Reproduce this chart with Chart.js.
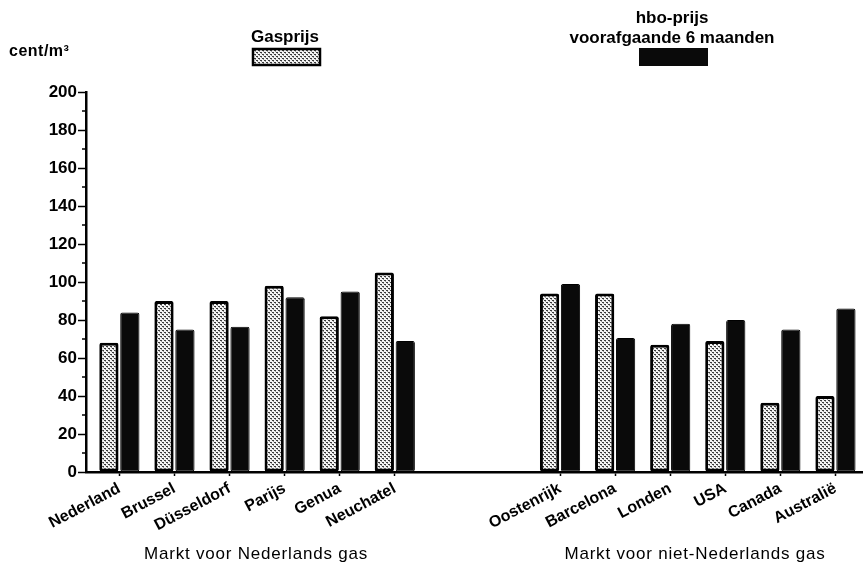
<!DOCTYPE html>
<html>
<head>
<meta charset="utf-8">
<script src="https://cdn.jsdelivr.net/npm/chart.js@4/dist/chart.umd.min.js"></script>
<style>
  html, body { margin: 0; padding: 0; background: #fff; }
  #wrap { width: 863px; height: 564px; position: relative; }
</style>
</head>
<body>
<div id="wrap"><canvas id="c" width="863" height="564"></canvas></div>
<script>
// ---- data ----
const categories = ['Nederland', 'Brussel', 'Düsseldorf', 'Parijs', 'Genua', 'Neuchatel', '', '',
                    'Oostenrijk', 'Barcelona', 'Londen', 'USA', 'Canada', 'Australië'];
const gasprijs = [68, 90, 90, 98, 82, 105, null, null, 94, 94, 67, 69, 36.5, 40];
const hboprijs = [84, 75, 76.5, 92, 95, 69, null, null, 99, 70.5, 78, 80, 75, 86];
const seriesNames = ['Gasprijs', 'hbo-prijs', 'voorafgaande 6 maanden'];
const groupTitles = ['Markt voor Nederlands gas', 'Markt voor niet-Nederlands gas'];
const yUnit = 'cent/m³';
const yMax = 200, yMajor = 20, yMinor = 10;

const FONT = '"Liberation Sans", Arial, Helvetica, sans-serif';

// stipple pattern for Gasprijs
function makePattern() {
  const t = document.createElement('canvas');
  t.width = 4; t.height = 4;
  const g = t.getContext('2d');
  g.fillStyle = '#f4f4f4';
  g.fillRect(0, 0, 4, 4);
  g.fillStyle = '#3a3a3a';
  g.fillRect(0, 0, 2, 1);
  g.fillRect(2, 2, 2, 1);
  g.fillStyle = '#9a9a9a';
  g.fillRect(1, 1, 1, 1);
  g.fillRect(3, 3, 1, 1);
  return g.createPattern(t, 'repeat');
}
const ctx0 = document.getElementById('c').getContext('2d');
const gasPattern = makePattern();

const decor = {
  id: 'decor',
  afterDraw(chart) {
    const ctx = chart.ctx;
    const y = chart.scales.y;
    ctx.save();
    // minor ticks on y axis
    ctx.strokeStyle = '#000';
    ctx.lineWidth = 1.5;
    const ax = chart.chartArea.left;
    for (let v = yMinor; v < yMax; v += yMajor) {
      const py = y.getPixelForValue(v);
      ctx.beginPath();
      ctx.moveTo(ax - 4, py);
      ctx.lineTo(ax, py);
      ctx.stroke();
    }
    // unit label
    ctx.fillStyle = '#000';
    ctx.font = 'bold 16px ' + FONT;
    ctx.textAlign = 'left';
    ctx.textBaseline = 'alphabetic';
    ctx.letterSpacing = '0.5px';
    ctx.fillText(yUnit, 9, 56);
    // legend
    ctx.font = 'bold 17px ' + FONT;
    ctx.letterSpacing = '0px';
    ctx.textAlign = 'center';
    ctx.fillText(seriesNames[0], 285, 42);
    ctx.fillText(seriesNames[1], 672, 23);
    ctx.fillText(seriesNames[2], 672, 43);
    // legend swatches
    ctx.lineWidth = 2.5;
    ctx.strokeStyle = '#000';
    ctx.fillStyle = gasPattern;
    ctx.fillRect(253, 49, 67, 16);
    ctx.strokeRect(253, 49, 67, 16);
    ctx.fillStyle = '#0a0a0a';
    ctx.fillRect(639, 48, 69, 18);
    // group titles
    ctx.fillStyle = '#000';
    ctx.font = '17px ' + FONT;
    ctx.letterSpacing = '0.8px';
    ctx.fillText(groupTitles[0], 256, 559);
    ctx.fillText(groupTitles[1], 695, 559);
    ctx.restore();
  }
};

new Chart(ctx0, {
  type: 'bar',
  data: {
    labels: categories,
    datasets: [
      {
        label: seriesNames[0],
        data: gasprijs,
        backgroundColor: gasPattern,
        borderColor: '#000',
        borderWidth: 3,
        borderRadius: 2,
        borderSkipped: false,
        categoryPercentage: 0.76,
        barPercentage: 0.92
      },
      {
        label: seriesNames[1] + ' ' + seriesNames[2],
        data: hboprijs,
        backgroundColor: '#0a0a0a',
        borderColor: '#000',
        borderWidth: 1,
        borderRadius: 2,
        borderSkipped: false,
        categoryPercentage: 0.76,
        barPercentage: 0.92
      }
    ]
  },
  options: {
    responsive: false,
    animation: false,
    devicePixelRatio: 1,
    layout: { padding: { left: 0, right: -5, top: 92, bottom: 0 } },
    plugins: {
      legend: { display: false },
      tooltip: { enabled: false },
      title: { display: false }
    },
    scales: {
      x: {
        offset: true,
        grid: {
          offset: false,
          drawOnChartArea: false,
          tickLength: 4,
          tickWidth: 1.5,
          tickColor: (c) => (categories[c.index] ? '#000' : 'rgba(0,0,0,0)')
        },
        border: { color: '#000', width: 2.5 },
        ticks: {
          autoSkip: false,
          minRotation: 28,
          maxRotation: 28,
          padding: 3,
          color: '#000',
          font: { family: FONT, size: 16, weight: 'bold' }
        },
        afterBuildTicks(s) {
          // extra gap between the y axis and the first category
          s._startValue = -0.606;
          s._valueRange = categories.length + 0.106;
        },
        afterFit(s) { s.height = 92; }
      },
      y: {
        min: 0,
        max: yMax,
        grid: {
          drawOnChartArea: false,
          tickLength: 8,
          tickWidth: 1.5,
          tickColor: '#000'
        },
        border: { color: '#000', width: 2.5 },
        ticks: {
          stepSize: yMajor,
          padding: 1,
          color: '#000',
          font: { family: FONT, size: 17, weight: 'bold' }
        },
        afterFit(s) { s.width = 86; }
      }
    }
  },
  plugins: [decor]
});
</script>
</body>
</html>
